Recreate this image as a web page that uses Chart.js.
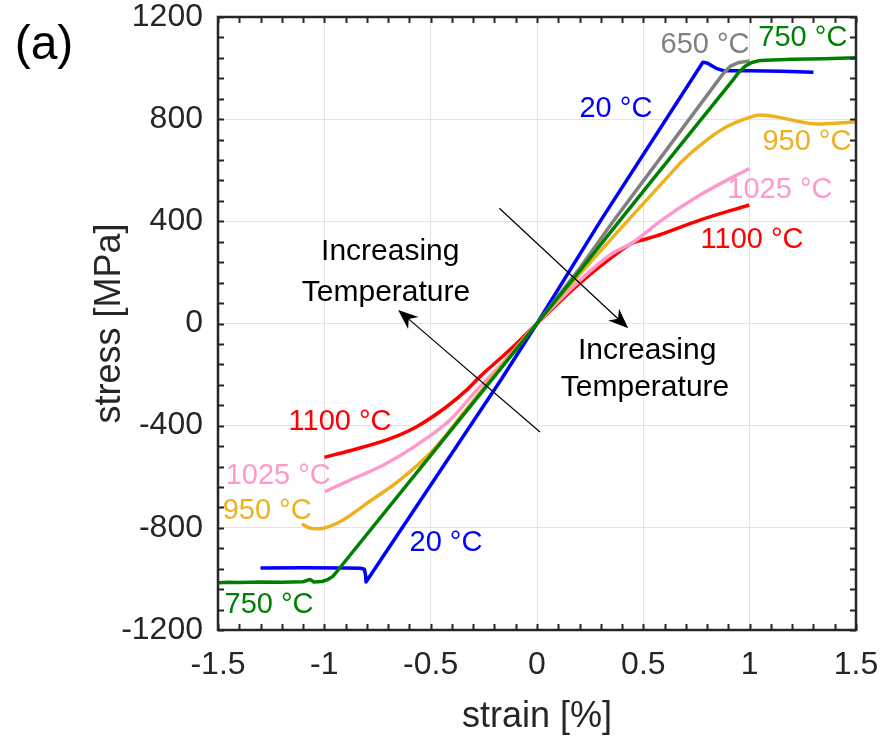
<!DOCTYPE html>
<html><head><meta charset="utf-8">
<script src="https://cdn.jsdelivr.net/npm/chart.js@4.4.0/dist/chart.umd.min.js"></script>
<style>html,body{margin:0;padding:0;background:#fff;}canvas{display:block;}</style>
</head><body>
<canvas id="c" width="886" height="740"></canvas>
<script>
// ---- tick labels ----
const xTickValues = [-1.5, -1, -0.5, 0, 0.5, 1, 1.5];
const yTickValues = [-1200, -800, -400, 0, 400, 800, 1200];

// ---- series (strain in %, stress in MPa) ----
const strain20 = [-1.30,-1.10,-0.90,-0.83,-0.812,-0.806,-0.804,-0.17,0,0.30,0.78,0.80,0.84,0.875,1.00,1.15,1.30];
const stress20 = [-957,-956,-957,-958,-962,-985,-1012,-221,0,404,1023,1020,1000,990,990,988,984];

const strain650 = [0,0.2,0.362,0.6,0.85,0.88,0.91,0.95,1.0];
const stress650 = [0,215,404,670,950,983,1008,1022,1028];

const strain750 = [-1.5,-1.45,-1.4,-1.3,-1.2,-1.1,-1.067,-1.05,-1.01,-0.985,-0.96,-0.94,-0.5,-0.2,0,0.2,0.39,0.7,0.92,0.95,0.98,1.01,1.05,1.2,1.35,1.5];
const stress750 = [-1015,-1013,-1014,-1012,-1013,-1011,-1002,-1012,-1010,-1003,-990,-970,-516,-207,0,205,404,725,952,985,1008,1022,1030,1035,1037,1040];

const strain950 = [-1.106,-1.07,-1.028,-0.926,-0.80,-0.644,-0.488,-0.331,-0.20,0,0.2,0.429,0.61,0.688,0.798,0.892,1.0,1.048,1.127,1.236,1.315,1.44,1.5];
const stress950 = [-785,-800,-804,-776,-704,-612,-495,-335,-200,0,192,405,570,640,718,770,807,816,809,790,781,786,790];

const strain1025 = [-0.997,-0.879,-0.722,-0.566,-0.409,-0.283,-0.15,0,0.2,0.35,0.452,0.578,0.766,0.998];
const stress1025 = [-658,-613,-554,-476,-378,-260,-145,0,168,272,318,400,503,607];

const strain1100 = [-1.0,-0.88,-0.707,-0.566,-0.425,-0.33,-0.268,-0.13,0,0.2,0.35,0.45,0.5,0.55,0.766,0.998];
const stress1100 = [-524,-498,-456,-404,-326,-260,-208,-105,0,157,258,315,328,340,405,464];

// ---- styling / annotations ----
const FONT = '"Liberation Sans", Arial, Helvetica, sans-serif';
const INK = '#262626';
const colors = {c20:'#0000FF', c650:'#808080', c750:'#008000', c950:'#EDB120', c1025:'#FF99CC', c1100:'#FF0000'};

const curveLabels = [
  {text:'650 °C',  color:colors.c650,  x:0.79,   y:1090},
  {text:'750 °C',  color:colors.c750,  x:1.25,   y:1117},
  {text:'20 °C',   color:colors.c20,   x:0.371,  y:839},
  {text:'950 °C',  color:colors.c950,  x:1.269,  y:710},
  {text:'1025 °C', color:colors.c1025, x:1.142,  y:523},
  {text:'1100 °C', color:colors.c1100, x:1.011,  y:327},
  {text:'1100 °C', color:colors.c1100, x:-0.926, y:-385},
  {text:'1025 °C', color:colors.c1025, x:-1.217, y:-597},
  {text:'950 °C',  color:colors.c950,  x:-1.269, y:-734},
  {text:'20 °C',   color:colors.c20,   x:-0.428, y:-859},
  {text:'750 °C',  color:colors.c750,  x:-1.260, y:-1102}
];
const noteTexts = [
  {text:'Increasing',  x:-0.69, y:280},
  {text:'Temperature', x:-0.71, y:120},
  {text:'Increasing',  x:0.518, y:-108},
  {text:'Temperature', x:0.508, y:-252}
];
const arrows = [
  {x0:-0.177, y0:451, x1:0.429, y1:-19},
  {x0:0.014, y0:-425, x1:-0.653, y1:53}
];

function pts(xs, ys){ return xs.map((v,i)=>({x:v, y:ys[i]})); }
function ds(label, xs, ys, color, smooth){
  const d = {label, data:pts(xs,ys), borderColor:color, backgroundColor:color, showLine:true, fill:false,
          pointRadius:0, borderWidth:3.5, tension:0, borderJoinStyle:'round'};
  if (smooth) d.cubicInterpolationMode = 'monotone';
  return d;
}

const decor = {
  id:'decor',
  afterDatasetsDraw(chart){
    const {ctx, chartArea:a, scales:{x, y}} = chart;
    ctx.save();
    // arrows
    ctx.strokeStyle = '#000'; ctx.fillStyle = '#000'; ctx.lineWidth = 1.2;
    arrows.forEach(ar=>{
      const X0 = x.getPixelForValue(ar.x0), Y0 = y.getPixelForValue(ar.y0);
      const X1 = x.getPixelForValue(ar.x1), Y1 = y.getPixelForValue(ar.y1);
      const ang = Math.atan2(Y1-Y0, X1-X0);
      const L = 20, W = 8, back = 14;
      ctx.beginPath(); ctx.moveTo(X0,Y0);
      ctx.lineTo(X1 - Math.cos(ang)*back, Y1 - Math.sin(ang)*back); ctx.stroke();
      const bx = X1 - Math.cos(ang)*L, by = Y1 - Math.sin(ang)*L;
      const nx = -Math.sin(ang), ny = Math.cos(ang);
      ctx.beginPath();
      ctx.moveTo(X1, Y1);
      ctx.lineTo(bx + nx*W, by + ny*W);
      ctx.lineTo(X1 - Math.cos(ang)*back, Y1 - Math.sin(ang)*back);
      ctx.lineTo(bx - nx*W, by - ny*W);
      ctx.closePath(); ctx.fill();
    });
    // texts
    ctx.textAlign = 'center'; ctx.textBaseline = 'middle';
    ctx.font = '29px ' + FONT;
    curveLabels.forEach(l=>{ ctx.fillStyle = l.color; ctx.fillText(l.text, x.getPixelForValue(l.x), y.getPixelForValue(l.y)); });
    ctx.font = '30px ' + FONT; ctx.fillStyle = '#000';
    noteTexts.forEach(l=>{ ctx.fillText(l.text, x.getPixelForValue(l.x), y.getPixelForValue(l.y)); });
    // ticks (inward, all four sides)
    ctx.strokeStyle = INK; ctx.lineWidth = 2;
    const tl = 6;
    ctx.beginPath();
    for (let i=-15;i<=15;i++){
      const px = Math.round(x.getPixelForValue(i/10)) + 0.5;
      ctx.moveTo(px, a.bottom); ctx.lineTo(px, a.bottom - tl);
      ctx.moveTo(px, a.top); ctx.lineTo(px, a.top + tl);
    }
    for (let v=-1200; v<=1200; v+=80){
      const py = Math.round(y.getPixelForValue(v)) + 0.5;
      ctx.moveTo(a.left, py); ctx.lineTo(a.left + tl, py);
      ctx.moveTo(a.right, py); ctx.lineTo(a.right - tl, py);
    }
    ctx.stroke();
    ctx.lineWidth = 2.5;
    ctx.strokeRect(a.left, a.top, a.right - a.left, a.bottom - a.top);
    // panel label
    ctx.fillStyle = '#000'; ctx.font = '48px ' + FONT; ctx.textAlign='center';
    ctx.fillText('(a)', 44, 46);
    ctx.restore();
  }
};

const fmt = v => String(Math.round(v*10)/10);

new Chart(document.getElementById('c'), {
  type:'scatter',
  data:{datasets:[
    ds('1100 °C', strain1100, stress1100, colors.c1100, true),
    ds('1025 °C', strain1025, stress1025, colors.c1025, true),
    ds('950 °C',  strain950,  stress950,  colors.c950, true),
    ds('20 °C',   strain20,   stress20,   colors.c20, false),
    ds('650 °C',  strain650,  stress650,  colors.c650, false),
    ds('750 °C',  strain750,  stress750,  colors.c750, false)
  ].reverse()},
  options:{
    responsive:false, animation:false, devicePixelRatio:1,
    layout:{padding:{top:17, right:30, left:0, bottom:0}},
    plugins:{legend:{display:false}, tooltip:{enabled:false}},
    scales:{
      x:{type:'linear', min:-1.5, max:1.5,
        afterBuildTicks:s=>{ s.ticks = xTickValues.map(v=>({value:v})); },
        afterFit:s=>{ s.height = 110; s.paddingLeft = 0; s.paddingRight = 0; },
        grid:{color:'#e3e3e3', lineWidth:1, drawTicks:false},
        border:{display:false},
        ticks:{padding:16, color:INK, font:{family:FONT, size:32}, callback:v=>fmt(v), maxRotation:0, autoSkip:false},
        title:{display:true, text:'strain [%]', color:INK, font:{family:FONT, size:36}, padding:{top:0, bottom:1}}
      },
      y:{type:'linear', min:-1200, max:1200,
        afterBuildTicks:s=>{ s.ticks = yTickValues.map(v=>({value:v})); },
        afterFit:s=>{ s.width = 218; s.paddingTop = 0; s.paddingBottom = 0; },
        grid:{color:'#e3e3e3', lineWidth:1, drawTicks:false},
        border:{display:false},
        ticks:{padding:15, color:INK, font:{family:FONT, size:32}, callback:v=>fmt(v), autoSkip:false},
        title:{display:true, text:'stress [MPa]', color:INK, font:{family:FONT, size:36}, padding:{top:88, bottom:0}}
      }
    }
  },
  plugins:[decor]
});
</script>
</body></html>
